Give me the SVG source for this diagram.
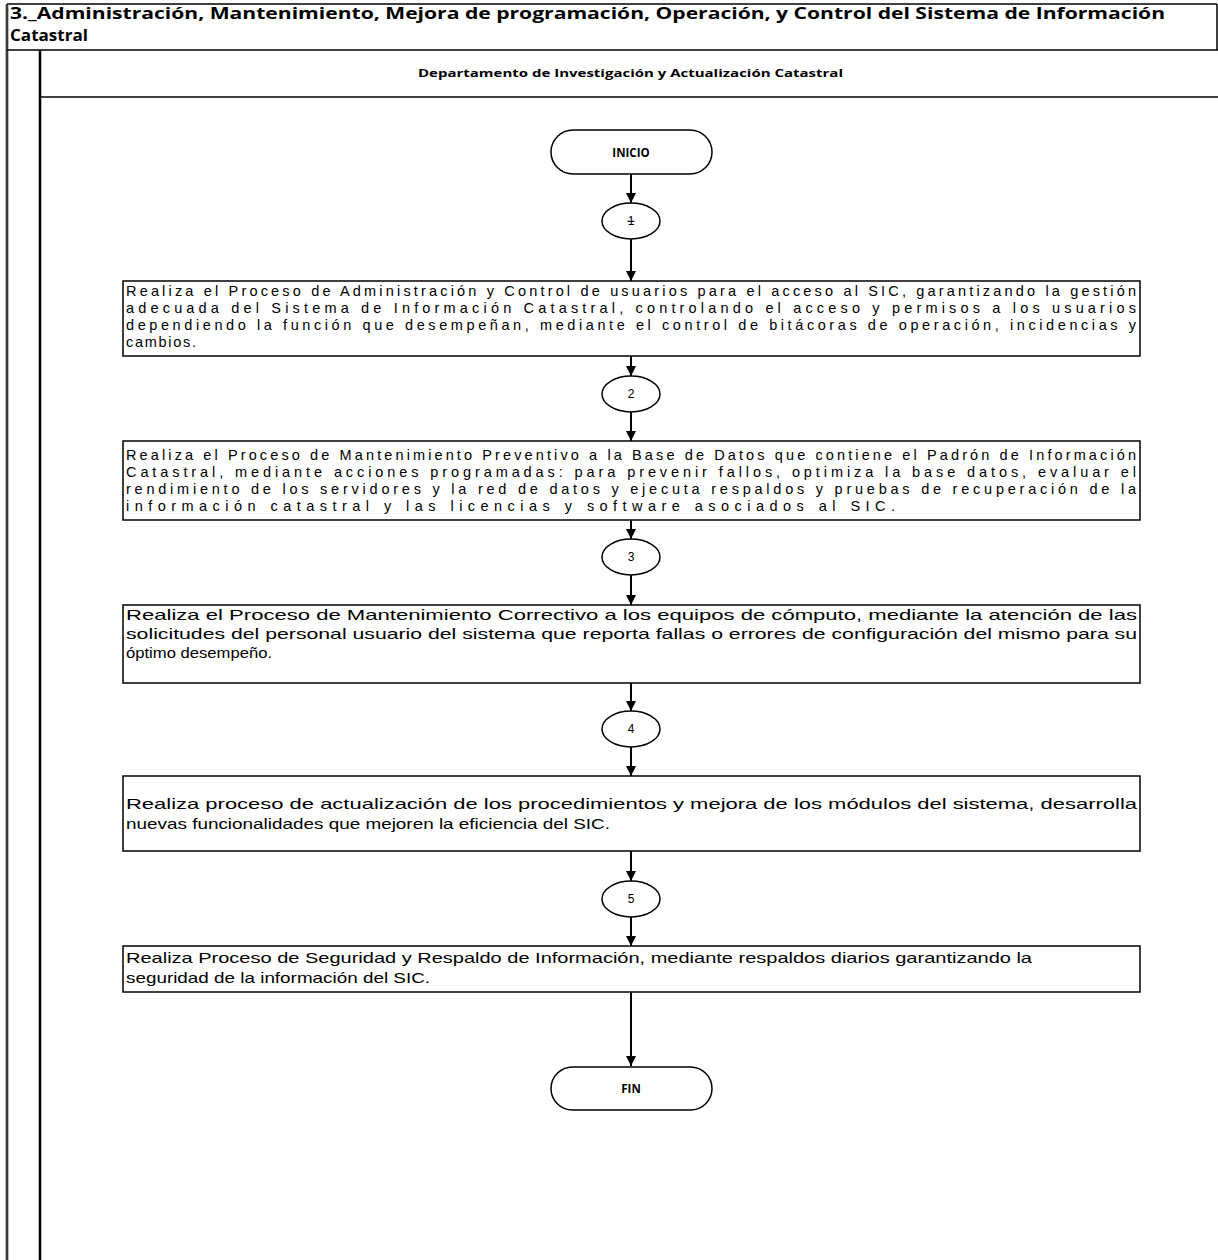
<svg xmlns="http://www.w3.org/2000/svg" width="1218" height="1260" viewBox="0 0 1218 1260">
<style>
.frame{fill:none;stroke:#000;stroke-width:1.5}
.box{fill:#fff;stroke:#000;stroke-width:1.5}
.term{fill:#fff;stroke:#000;stroke-width:1.5}
.conn{stroke:#000;stroke-width:2;fill:none}
.title{font-family:"Open Sans","Liberation Sans",Arial,sans-serif;font-weight:bold;font-size:16px;fill:#000}
.hdr{font-family:"Open Sans","Liberation Sans",Arial,sans-serif;font-weight:bold;font-size:11px;fill:#000}
.lbl{font-family:"Open Sans","Liberation Sans",Arial,sans-serif;font-weight:bold;font-size:11.5px;fill:#000;text-anchor:middle}
.num{font-family:"Liberation Sans",Arial,sans-serif;font-size:12px;fill:#000;text-anchor:middle}
.t1{font-family:"Liberation Sans",Arial,sans-serif;font-size:14.5px;fill:#000}
.t2{font-family:"Liberation Sans",Arial,sans-serif;font-size:15px;fill:#000}
</style>
<defs>
<marker id="ah" markerUnits="userSpaceOnUse" markerWidth="12" markerHeight="12" refX="10" refY="5" orient="auto">
<path d="M0,0 L10,5 L0,10 Z" fill="#000"/>
</marker>
</defs>
<rect width="1218" height="1260" fill="#fff"/>
<g id="frame">
<line x1="7" y1="4" x2="1217" y2="4" class="frame"/>
<line x1="7" y1="4" x2="7" y2="1260" stroke="#777" stroke-width="3"/>
<line x1="7" y1="4" x2="7" y2="1260" stroke="#000" stroke-width="1"/>
<line x1="1217" y1="4" x2="1217" y2="50" class="frame"/>
<line x1="7" y1="50" x2="1218" y2="50" class="frame"/>
<line x1="40" y1="50" x2="40" y2="1260" stroke="#000" stroke-width="2.5"/>
<line x1="40" y1="97" x2="1218" y2="97" class="frame"/>
<text class="title" x="10" y="19" textLength="1155" lengthAdjust="spacingAndGlyphs">3._Administración, Mantenimiento, Mejora de programación, Operación, y Control del Sistema de Información</text>
<text class="title" x="10" y="41" textLength="78" lengthAdjust="spacingAndGlyphs">Catastral</text>
<text class="hdr" x="418" y="77" textLength="425" lengthAdjust="spacingAndGlyphs">Departamento de Investigación y Actualización Catastral</text>
</g>
<g id="connectors">
<line class="conn" x1="631" y1="174" x2="631" y2="203" marker-end="url(#ah)"/>
<line class="conn" x1="631" y1="239" x2="631" y2="281" marker-end="url(#ah)"/>
<line class="conn" x1="631" y1="356" x2="631" y2="376" marker-end="url(#ah)"/>
<line class="conn" x1="631" y1="412" x2="631" y2="441" marker-end="url(#ah)"/>
<line class="conn" x1="631" y1="520" x2="631" y2="539" marker-end="url(#ah)"/>
<line class="conn" x1="631" y1="575" x2="631" y2="605" marker-end="url(#ah)"/>
<line class="conn" x1="631" y1="683" x2="631" y2="711" marker-end="url(#ah)"/>
<line class="conn" x1="631" y1="747" x2="631" y2="776" marker-end="url(#ah)"/>
<line class="conn" x1="631" y1="851" x2="631" y2="881" marker-end="url(#ah)"/>
<line class="conn" x1="631" y1="917" x2="631" y2="946" marker-end="url(#ah)"/>
<line class="conn" x1="631" y1="992" x2="631" y2="1066" marker-end="url(#ah)"/>
</g>
<g id="inicio">
<rect class="term" x="551" y="130" width="161" height="44" rx="22"/>
<text class="lbl" x="631" y="157">INICIO</text>
</g>
<g id="c1">
<ellipse class="term" cx="631" cy="221" rx="29" ry="18"/>
<text class="num" x="631" y="225" text-decoration="line-through">1</text>
</g>
<g id="box1">
<rect class="box" x="123" y="281" width="1017" height="75"/>
<text class="t1" x="126" y="296" textLength="1010" lengthAdjust="spacing">Realiza el Proceso de Administración y Control de usuarios para el acceso al SIC, garantizando la gestión</text>
<text class="t1" x="126" y="313" textLength="1010" lengthAdjust="spacing">adecuada del Sistema de Información Catastral, controlando el acceso y permisos a los usuarios</text>
<text class="t1" x="126" y="330" textLength="1010" lengthAdjust="spacing">dependiendo la función que desempeñan, mediante el control de bitácoras de operación, incidencias y</text>
<text class="t1" x="126" y="347" textLength="70" lengthAdjust="spacing">cambios.</text>
</g>
<g id="c2">
<ellipse class="term" cx="631" cy="394" rx="29" ry="18"/>
<text class="num" x="631" y="398">2</text>
</g>
<g id="box2">
<rect class="box" x="123" y="441" width="1017" height="79"/>
<text class="t1" x="126" y="460" textLength="1010" lengthAdjust="spacing">Realiza el Proceso de Mantenimiento Preventivo a la Base de Datos que contiene el Padrón de Información</text>
<text class="t1" x="126" y="477" textLength="1010" lengthAdjust="spacing">Catastral, mediante acciones programadas: para prevenir fallos, optimiza la base datos, evaluar el</text>
<text class="t1" x="126" y="494" textLength="1010" lengthAdjust="spacing">rendimiento de los servidores y la red de datos y ejecuta respaldos y pruebas de recuperación de la</text>
<text class="t1" x="126" y="511" textLength="769" lengthAdjust="spacing">información catastral y las licencias y software asociados al SIC.</text>
</g>
<g id="c3">
<ellipse class="term" cx="631" cy="557" rx="29" ry="18"/>
<text class="num" x="631" y="561">3</text>
</g>
<g id="box3">
<rect class="box" x="123" y="605" width="1017" height="78"/>
<text class="t2" x="126" y="620" textLength="1011" lengthAdjust="spacingAndGlyphs">Realiza el Proceso de Mantenimiento Correctivo a los equipos de cómputo, mediante la atención de las</text>
<text class="t2" x="126" y="639" textLength="1011" lengthAdjust="spacingAndGlyphs">solicitudes del personal usuario del sistema que reporta fallas o errores de configuración del mismo para su</text>
<text class="t2" x="126" y="658" textLength="146" lengthAdjust="spacingAndGlyphs">óptimo desempeño.</text>
</g>
<g id="c4">
<ellipse class="term" cx="631" cy="729" rx="29" ry="18"/>
<text class="num" x="631" y="733">4</text>
</g>
<g id="box4">
<rect class="box" x="123" y="776" width="1017" height="75"/>
<text class="t2" x="126" y="809" textLength="1011" lengthAdjust="spacingAndGlyphs">Realiza proceso de actualización de los procedimientos y mejora de los módulos del sistema, desarrolla</text>
<text class="t2" x="126" y="829" textLength="484" lengthAdjust="spacingAndGlyphs">nuevas funcionalidades que mejoren la eficiencia del SIC.</text>
</g>
<g id="c5">
<ellipse class="term" cx="631" cy="899" rx="29" ry="18"/>
<text class="num" x="631" y="903">5</text>
</g>
<g id="box5">
<rect class="box" x="123" y="946" width="1017" height="46"/>
<text class="t2" x="126" y="963" textLength="906" lengthAdjust="spacingAndGlyphs">Realiza Proceso de Seguridad y Respaldo de Información, mediante respaldos diarios garantizando la</text>
<text class="t2" x="126" y="983" textLength="304" lengthAdjust="spacingAndGlyphs">seguridad de la información del SIC.</text>
</g>
<g id="fin">
<rect class="term" x="551" y="1067" width="161" height="43" rx="21.5"/>
<text class="lbl" x="631" y="1093">FIN</text>
</g>
</svg>
